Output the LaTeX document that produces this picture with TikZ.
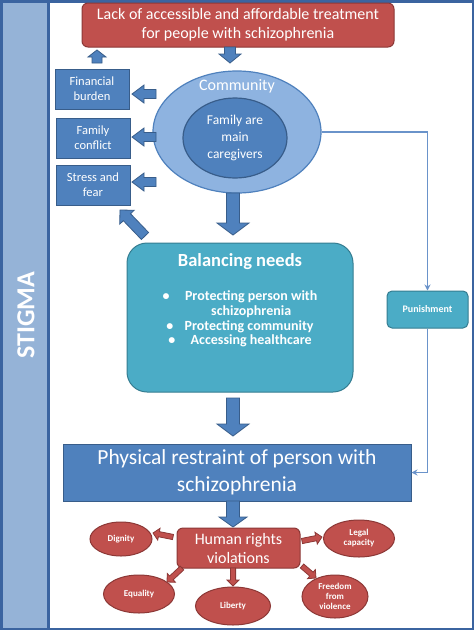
\documentclass[tikz,border=0pt]{standalone}
\usepackage{fontspec}
\setmainfont{Carlito}
\usetikzlibrary{calc,shapes.geometric,arrows.meta}
\definecolor{blueF}{HTML}{4F81BD}
\definecolor{blueD}{HTML}{385D8A}
\definecolor{lightE}{HTML}{8EB3E0}
\definecolor{tealF}{HTML}{4BACC6}
\definecolor{tealD}{HTML}{357D91}
\definecolor{redF}{HTML}{C0504D}
\definecolor{redD}{HTML}{8C3836}
\definecolor{frameC}{HTML}{3B64A0}
\definecolor{stripeC}{HTML}{95B3D7}
\definecolor{thinC}{HTML}{6A93CA}
\newcommand\bashaft{5pt}
\newcommand\bahead{10pt}
\newcommand\balen{10pt}
\tikzset{
  ba/.style n args={3}{line width=0.8pt,
    /utils/exec={\renewcommand\bashaft{#1}\renewcommand\bahead{#2}\renewcommand\balen{#3}},
    to path={let \p1=(\tikztostart), \p2=(\tikztotarget), \n1={atan2(\y2-\y1,\x2-\x1)} in
      ($(\p1)+(\n1+90:\bashaft)$) -- ($(\p2)+(\n1+180:\balen)+(\n1+90:\bashaft)$)
      -- ($(\p2)+(\n1+180:\balen)+(\n1+90:\bahead)$) -- (\p2)
      -- ($(\p2)+(\n1+180:\balen)+(\n1-90:\bahead)$) -- ($(\p2)+(\n1+180:\balen)+(\n1-90:\bashaft)$)
      -- ($(\p1)+(\n1-90:\bashaft)$) -- cycle}},
  bluearrow/.style={draw=blueD, fill=blueF},
  redarrow/.style={draw=redD, fill=redF, ba={2.6pt}{6pt}{6pt}},
  bluebox/.style={draw=blueD, fill=blueF, line width=1pt, text=white, align=center, inner sep=1pt},
  redbox/.style={draw=redD, fill=redF, line width=1pt, text=white, align=center, rounded corners=6pt, inner sep=1pt},
  redell/.style={ellipse, draw=redD, fill=redF, line width=1pt, text=white, align=center, inner sep=0pt,
    font=\fontsize{9}{10}\selectfont\bfseries},
  thinline/.style={draw=thinC, line width=1.4pt, -{Stealth[length=6pt,width=6pt]}},
}
\begin{document}
\begin{tikzpicture}[x=1pt,y=-1pt]
\useasboundingbox (0,0) rectangle (474,630);
% frame
\fill[white] (0,0) rectangle (474,630);
\fill[stripeC] (0,0) rectangle (48,630);
\draw[frameC, line width=2.5pt] (1.25,1.25) rectangle (472.75,628.75);
\draw[frameC, line width=3pt] (48.5,0) -- (48.5,630);
\node[rotate=90, text=white, font=\fontsize{26}{28}\selectfont\bfseries] (stigma) at (26,315) {STIGMA};

% top red box
\node[redbox, minimum width=312pt, minimum height=44pt, font=\fontsize{16}{19}\selectfont] (top) at (238,25)
  {Lack of accessible and affordable treatment\\for people with schizophrenia};

% left boxes
\node[bluebox, minimum width=74pt, minimum height=40pt, font=\fontsize{12.5}{15}\selectfont] (fin) at (92,89) {Financial\\burden};
\node[bluebox, minimum width=74pt, minimum height=40pt, font=\fontsize{12.5}{15}\selectfont] (conf) at (93,138) {Family\\conflict};
\node[bluebox, minimum width=74pt, minimum height=40pt, font=\fontsize{12.5}{15}\selectfont] (stress) at (93,185) {Stress and\\fear};

% community ellipses
\node[ellipse, draw=blueF, fill=lightE, line width=1.2pt, minimum width=168pt, minimum height=122pt, inner sep=0pt] (comm) at (237,132) {};
\node[text=white, font=\fontsize{16}{18}\selectfont] (commt) at (237,86) {Community};
\node[ellipse, draw=blueD, fill=blueF, line width=1.2pt, minimum width=104pt, minimum height=80pt, inner sep=0pt,
  text=white, align=center, font=\fontsize{13.5}{17}\selectfont] (fam) at (235,138) {Family are\\main\\caregivers};

% balancing needs
\node[draw=tealD, fill=tealF, line width=1pt, rounded corners=20pt, minimum width=226pt, minimum height=149pt] (bal) at (240,317.5) {};
\node[text=white, font=\fontsize{18.5}{20}\selectfont\bfseries] (balt) at (240,262) {Balancing needs};
\node[text=white, align=center, font=\fontsize{14}{14.7}\selectfont\bfseries] (balb) at (240,319)
  {\textbullet\hspace{1.1em}Protecting person with\\\hspace*{1.6em}schizophrenia\\
   \textbullet\hspace{0.8em}Protecting community\\\textbullet\hspace{1.1em}Accessing healthcare};

% punishment
\node[draw=tealD, fill=tealF, line width=1pt, rounded corners=5pt, minimum width=81pt, minimum height=37pt,
  text=white, font=\fontsize{10}{12}\selectfont\bfseries] (pun) at (427.5,309.5) {Punishment};

% physical restraint
\node[bluebox, minimum width=348pt, minimum height=57pt, font=\fontsize{21.5}{27}\selectfont] (restr) at (237,472.5)
  {Physical restraint of person with\\schizophrenia};

% human rights
\node[redbox, minimum width=123pt, minimum height=40pt, font=\fontsize{16}{19}\selectfont] (hr) at (238.5,548) {Human rights\\violations};
\node[redell, minimum width=62pt, minimum height=34pt] (dig) at (121,539) {Dignity};
\node[redell, minimum width=71pt, minimum height=37pt] (legal) at (359,538.5) {Legal\\capacity};
\node[redell, minimum width=71pt, minimum height=38pt] (eq) at (139,594) {Equality};
\node[redell, minimum width=75pt, minimum height=38pt] (lib) at (233,606) {Liberty};
\node[redell, minimum width=66pt, minimum height=43pt] (free) at (335,596.5) {Freedom\\from\\violence};

% thin connectors
\draw[thinline] (comm.east) -| (pun.north);
\draw[thinline] (pun.south) |- (restr.east);

% arrow end points
\coordinate (a1s) at (97,63);   \coordinate (a1e) at (97,50);
\coordinate (a2s) at (230,47);  \coordinate (a2e) at (230,63);
\coordinate (a3s) at (156,94);  \coordinate (a3e) at (132,94);
\coordinate (a4s) at (156,137); \coordinate (a4e) at (132,137);
\coordinate (a5s) at (156,182); \coordinate (a5e) at (132,182);
\coordinate (a6s) at (145,236); \coordinate (a6e) at (120,210);
\coordinate (a7s) at (233,193); \coordinate (a7e) at (233,235);
\coordinate (a8s) at (233,398); \coordinate (a8e) at (233,436);
\coordinate (a9s) at (233,501); \coordinate (a9e) at (233,527);
\coordinate (r1s) at (173,537); \coordinate (r1e) at (153,533);
\coordinate (r2s) at (302,541); \coordinate (r2e) at (322,537);
\coordinate (r3s) at (182,568); \coordinate (r3e) at (167,582);
\coordinate (r4s) at (233,568); \coordinate (r4e) at (233,586);
\coordinate (r5s) at (302,566); \coordinate (r5e) at (316,578);

% block arrows (blue)
\draw[bluearrow, ba={5pt}{9pt}{7pt}] (a1s) to (a1e);
\draw[bluearrow, ba={5.5pt}{11pt}{9pt}] (a2s) to (a2e);
\draw[bluearrow, ba={4.5pt}{9pt}{12pt}] (a3s) to (a3e);
\draw[bluearrow, ba={4.5pt}{9pt}{12pt}] (a4s) to (a4e);
\draw[bluearrow, ba={4.5pt}{9pt}{12pt}] (a5s) to (a5e);
\draw[bluearrow, ba={5pt}{10pt}{10pt}] (a6s) to (a6e);
\draw[bluearrow, ba={6.5pt}{16pt}{12pt}] (a7s) to (a7e);
\draw[bluearrow, ba={6.5pt}{16pt}{12pt}] (a8s) to (a8e);
\draw[bluearrow, ba={6.5pt}{14pt}{10pt}] (a9s) to (a9e);

% red arrows
\draw[redarrow] (r1s) to (r1e);
\draw[redarrow] (r2s) to (r2e);
\draw[redarrow] (r3s) to (r3e);
\draw[redarrow] (r4s) to (r4e);
\draw[redarrow] (r5s) to (r5e);
\end{tikzpicture}
\end{document}
